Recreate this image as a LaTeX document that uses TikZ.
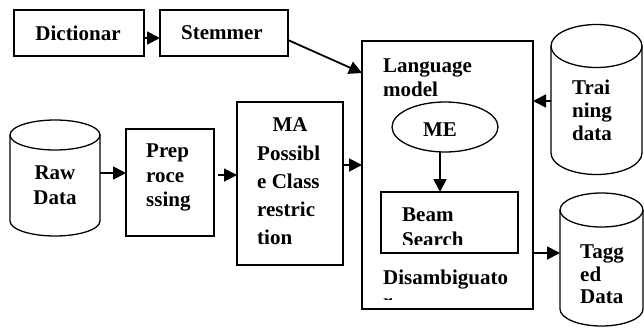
\documentclass[tikz,border=0pt]{standalone}
\usepackage{fontspec}
\setmainfont{Liberation Serif}
\usetikzlibrary{arrows.meta,shapes.geometric}
\begin{document}
\begin{tikzpicture}[x=1pt,y=-1pt,
  box/.style={draw,line width=1.3pt,inner sep=0pt,outer sep=0pt},
  hold/.style={inner sep=0pt,outer sep=0pt},
  txt/.style={font=\fontsize{21}{#1}\selectfont\bfseries,inner sep=0pt,align=left},
  txt/.default=24.5,
  cyl/.style={line width=1.3pt},
  arr/.style={line width=1.8pt,-{Triangle[length=13pt,width=13pt]}}]
\useasboundingbox (0,0) rectangle (644,327);

% boxes
\node[box,minimum width=130pt,minimum height=46pt] (dict) at (79,33) {};
\node[box,minimum width=128pt,minimum height=46pt] (stem) at (224,33) {};
\node[box,minimum width=88pt,minimum height=107pt] (prep) at (170,182.5) {};
\node[box,minimum width=106pt,minimum height=163pt] (ma) at (290,183.5) {};
\node[box,minimum width=171pt,minimum height=268pt] (lang) at (447.5,175) {};
\node[box,ellipse,minimum width=106pt,minimum height=50pt] (me) at (445,127) {};
\node[box,minimum width=137pt,minimum height=61pt] (beam) at (449.5,222.5) {};

% cylinders
\draw[cyl] (55,135) ellipse [x radius=45pt,y radius=15pt];
\draw[cyl] (10,135) -- (10,221) arc[start angle=180,end angle=360,x radius=45pt,y radius=15pt] -- (100,135);
\node[hold,minimum width=90pt,minimum height=116pt] (raw) at (55,178) {};

\draw[cyl] (596.5,46) ellipse [x radius=45.5pt,y radius=21.5pt];
\draw[cyl] (551,46) -- (551,153) arc[start angle=180,end angle=360,x radius=45.5pt,y radius=21.5pt] -- (642,46);
\node[hold,minimum width=91pt,minimum height=150pt] (train) at (596.5,100) {};

\draw[cyl] (601.5,210) ellipse [x radius=41.5pt,y radius=17pt];
\draw[cyl] (560,210) -- (560,309) arc[start angle=180,end angle=360,x radius=41.5pt,y radius=17pt] -- (643,210);
\node[hold,minimum width=83pt,minimum height=134pt] (tag) at (601.5,260) {};

% texts
\node[txt] (dictt) at (78,33) {Dictionar};
\node[txt] (stemt) at (222,33) {Stemmer};
\node[txt,align=center] (rawt) at (55,185) {Raw\\Data};
\node[txt,anchor=west] (prept) at (146,177.5) {Prep\\roce\\ssing};
\node[txt] (mat) at (290,125) {MA};
\node[txt=28,anchor=west] (mat2) at (257,195.5) {Possibl\\e Class\\restric\\tion};
\node[txt=24,anchor=west] (langt) at (383,77.5) {Language\\model};
\node[txt] (met) at (440,130) {ME};
\node[txt=23,anchor=west] (traint) at (572,110) {Trai\\ning\\data};
\node[txt=22.5,anchor=west] (tagt) at (580,274.5) {Tagg\\ed\\Data};
\begin{scope}
  \clip (381,192) rectangle (518,244);
  \node[txt=25,anchor=west] (beamt) at (402,227.5) {Beam\\Search};
\end{scope}
\begin{scope}
  \clip (362,41) rectangle (533,299);
  \node[txt=24,anchor=west] (dist) at (383,289) {Disambiguato\\r};
\end{scope}

% connectors
\draw[arr] ([yshift=-5pt]dict.east) coordinate (a1) -- (a1 -| stem.west);
\draw[arr] ([yshift=-7pt]stem.east) -- ([yshift=102pt]lang.west);
\draw[arr] ([yshift=5pt]raw.east) coordinate (a2) -- (a2 -| prep.west);
\draw[arr] ([xshift=4pt,yshift=7.5pt]prep.east) coordinate (a3) -- (a3 -| ma.west);
\draw[arr] ([yshift=18.5pt]ma.east) coordinate (a4) -- (a4 -| lang.west);
\draw[arr] ([yshift=-1pt]train.west) coordinate (a5) -- (a5 -| lang.east);
\draw[arr] ([xshift=-5pt]me.south) coordinate (a6) -- (a6 |- beam.north);
\draw[arr] ([yshift=-78pt]lang.east) coordinate (a7) -- (a7 -| tag.west);
\end{tikzpicture}
\end{document}
